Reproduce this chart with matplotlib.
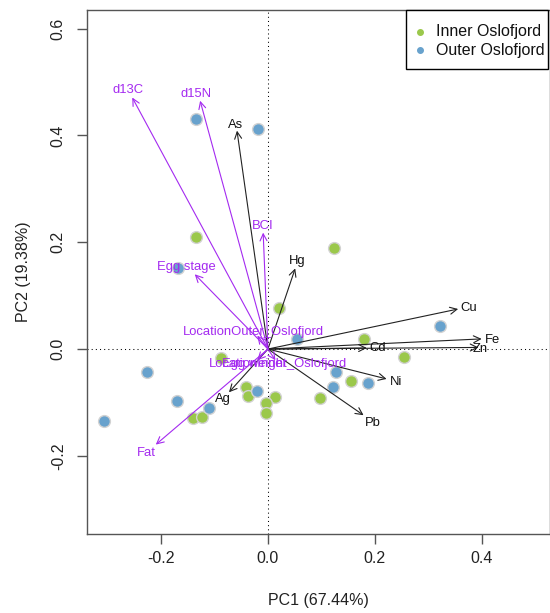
import matplotlib
matplotlib.use('Agg')
import matplotlib.pyplot as plt
from matplotlib.patches import Rectangle

plt.rcParams['font.family'] = ['Liberation Sans', 'DejaVu Sans']

# sample scores on PC1 / PC2
inner_pc1 = [-0.135, 0.124, 0.020, 0.179, 0.254, -0.087, -0.042, -0.037, 0.013,
             -0.004, -0.004, -0.140, -0.124, 0.097, 0.155]
inner_pc2 = [0.210, 0.190, 0.076, 0.019, -0.014, -0.016, -0.072, -0.088, -0.089,
             -0.101, -0.120, -0.130, -0.127, -0.092, -0.059]
outer_pc1 = [-0.135, -0.018, -0.169, 0.055, 0.322, -0.227, -0.307, -0.171, -0.110,
             -0.020, 0.128, 0.121, 0.187]
outer_pc2 = [0.430, 0.413, 0.152, 0.018, 0.044, -0.043, -0.135, -0.097, -0.110,
             -0.079, -0.043, -0.071, -0.063]

# active variables (black arrows)
act_names = ['As', 'Hg', 'Cu', 'Fe', 'Zn', 'Cd', 'Ni', 'Pb', 'Ag']
act_x = [-0.058, 0.051, 0.356, 0.400, 0.394, 0.185, 0.222, 0.179, -0.073]
act_y = [0.409, 0.151, 0.075, 0.019, 0.003, 0.002, -0.056, -0.124, -0.081]
act_lab_x = [-0.061, 0.055, 0.375, 0.420, 0.397, 0.206, 0.239, 0.197, -0.084]
act_lab_y = [0.420, 0.165, 0.076, 0.016, 0.001, 0.002, -0.062, -0.139, -0.094]

# supplementary variables (purple arrows)
sup_names = ['d13C', 'd15N', 'BCI', 'Egg stage', 'Fat', 'LocationOuter_Oslofjord',
             'LocationInner_Oslofjord', 'Egg weight']
sup_x = [-0.254, -0.127, -0.009, -0.137, -0.210, -0.020, 0.014, -0.020]
sup_y = [0.471, 0.465, 0.218, 0.140, -0.179, 0.025, -0.021, -0.021]
sup_lab_x = [-0.262, -0.134, -0.009, -0.152, -0.227, -0.027, 0.018, -0.026]
sup_lab_y = [0.485, 0.477, 0.230, 0.154, -0.194, 0.032, -0.028, -0.028]

groups = ['Inner Oslofjord', 'Outer Oslofjord']
green = '#9BC84B'
blue = '#68A2CD'
purple = '#A42AF0'

fig = plt.figure(figsize=(5.5, 6.13), dpi=100)
ax = fig.add_axes([0.1589, 0.1295, 0.8402, 0.8542])

ax.axhline(0, color='black', lw=0.75, linestyle=(0, (1, 3)), zorder=1)
ax.axvline(0, color='black', lw=0.75, linestyle=(0, (1, 3)), zorder=1)

ax.scatter(inner_pc1, inner_pc2, s=72, color=green, edgecolor='#d2d2d2', linewidth=1, zorder=2)
ax.scatter(outer_pc1, outer_pc2, s=72, color=blue, edgecolor='#d2d2d2', linewidth=1, zorder=2)

astyle = '->,head_length=0.5,head_width=0.25'
for name, x, y, lx, ly in zip(act_names, act_x, act_y, act_lab_x, act_lab_y):
    ax.annotate('', xy=(x, y), xytext=(0, 0),
                arrowprops=dict(arrowstyle=astyle, color='#222222', lw=0.8,
                                shrinkA=0, shrinkB=0, mutation_scale=10), zorder=3)
    ax.text(lx, ly, name, color='#111111', fontsize=9.4, ha='center', va='center', zorder=4)

for name, x, y, lx, ly in zip(sup_names, sup_x, sup_y, sup_lab_x, sup_lab_y):
    ax.annotate('', xy=(x, y), xytext=(0, 0),
                arrowprops=dict(arrowstyle=astyle, color=purple, lw=0.8,
                                shrinkA=0, shrinkB=0, mutation_scale=10), zorder=3)
    ax.text(lx, ly, name, color=purple, fontsize=9.4, ha='center', va='center', zorder=4)

ax.set_xlim(-0.338, 0.527)
ax.set_ylim(-0.3457, 0.635)
ax.set_xticks([-0.2, 0.0, 0.2, 0.4])
ax.set_xticklabels(['-0.2', '0.0', '0.2', '0.4'])
ax.set_yticks([-0.2, 0.0, 0.2, 0.4, 0.6])
ax.set_yticklabels(['-0.2', '0.0', '0.2', '0.4', '0.6'], rotation=90, va='center')

for s in ax.spines.values():
    s.set_color('#555555')
    s.set_linewidth(1)
ax.tick_params(axis='both', length=7, width=1, color='#555555', labelsize=11.5,
               labelcolor='#222222')
ax.tick_params(axis='x', pad=5.5)
ax.tick_params(axis='y', pad=8.5)

ax.set_xlabel('PC1 (67.44%)', fontsize=11.5, color='#222222', va='center')
ax.xaxis.set_label_coords(0.5, -0.128)
ax.set_ylabel('PC2 (19.38%)', fontsize=11.5, color='#222222', va='center')
ax.yaxis.set_label_coords(-0.138, 0.5)

# legend box drawn by hand, R-style (top right corner)
ax.add_patch(Rectangle((0.6895, 0.8873), 0.3073, 0.1127, transform=ax.transAxes,
                       facecolor='white', edgecolor='black', lw=1, zorder=5, clip_on=False))
for i, (lab, col) in enumerate(zip(groups, [green, blue])):
    yy = 0.9589 - i * 0.0355
    ax.plot([0.7198], [yy], 'o', color=col, markersize=4, transform=ax.transAxes,
            zorder=6, clip_on=False)
    ax.text(0.7545, yy, lab, fontsize=11.5, color='#111111', va='center', ha='left',
            transform=ax.transAxes, zorder=6)

fig.savefig('out.png', dpi=100)
